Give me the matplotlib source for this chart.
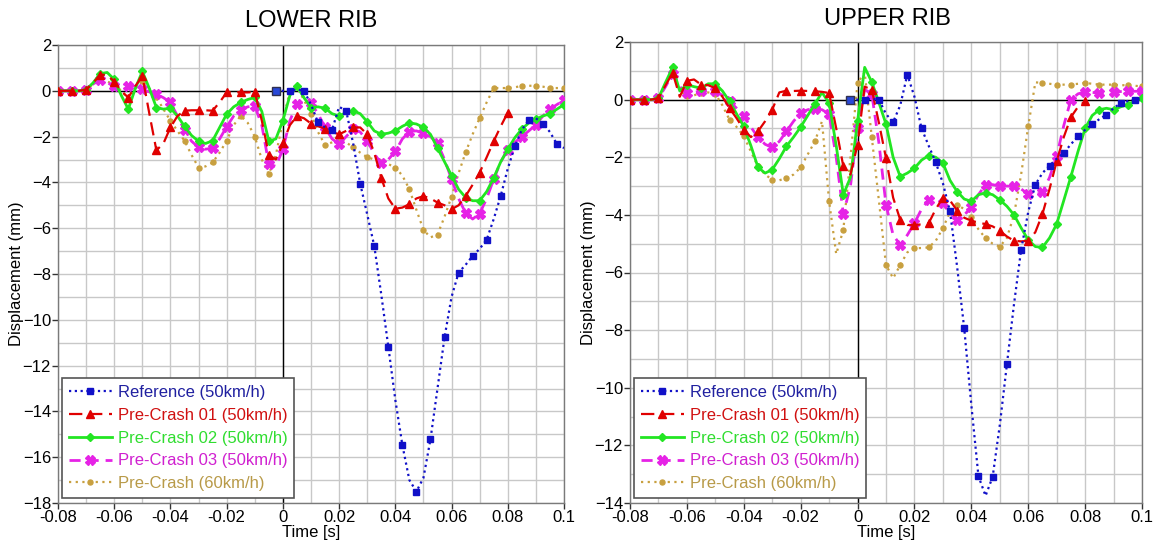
import numpy as np
import matplotlib
matplotlib.use("Agg")
import matplotlib.pyplot as plt
from matplotlib.ticker import MultipleLocator

nan = np.nan

# ---------------- data ----------------
time_s = np.linspace(-0.08, 0.1, 73)   # 2.5 ms sampling

series_labels = ["Reference (50km/h)", "Pre-Crash 01 (50km/h)", "Pre-Crash 02 (50km/h)",
                 "Pre-Crash 03 (50km/h)", "Pre-Crash (60km/h)"]

x_ticks = [-0.08, -0.06, -0.04, -0.02, 0, 0.02, 0.04, 0.06, 0.08, 0.1]
x_tick_labels = ["-0.08", "-0.06", "-0.04", "-0.02", "0", "0.02", "0.04", "0.06", "0.08", "0.1"]

# LOWER RIB
lower_ref = [nan, nan, nan, nan, nan, nan, nan, nan,
             nan, nan, nan, nan, nan, nan, nan, nan,
             nan, nan, nan, nan, nan, nan, nan, nan,
             nan, nan, nan, nan, nan, nan, nan, 0,
             0, 0, 0.05, 0,
             -0.6, -1.38, -1.6, -1.7,
             -0.7, -0.87, -2.3, -4.05,
             -5.4, -6.77, -8.9, -11.17,
             -13.5, -15.47, -17.0, -17.5,
             -16.9, -15.22, -13.0, -10.77,
             -9.0, -7.94, -7.6, -7.21,
             -6.9, -6.5, -5.6, -4.58,
             -3.4, -2.43, -1.7, -1.28,
             -1.2, -1.43, -1.8, -2.33,
             -2.5]
lower_pc01 = [0, 0, 0, 0,
              0.05, 0.35, 0.7, 0.7,
              0.4, 0.0, -0.3, 0.2,
              0.65, -1.0, -2.6, -2.3,
              -1.6, -1.1, -0.87, -0.85,
              -0.85, -0.85, -0.87, -0.5,
              -0.07, -0.05, -0.07, -0.07,
              -0.05, -1.3, -2.8, -3.0,
              -2.3, -1.5, -1.1, -1.2,
              -1.43, -1.55, -1.65, -1.8,
              -1.9, -1.75, -1.6, -1.6,
              -1.9, -2.7, -3.8, -4.7,
              -5.15, -5.1, -4.95, -4.7,
              -4.6, -4.7, -4.88, -5.0,
              -5.17, -5.0, -4.6, -4.1,
              -3.57, -2.9, -2.2, -1.55,
              -0.95, nan, nan, nan,
              nan, nan, nan, nan,
              nan]
lower_pc02 = [0, 0, 0, 0,
              0.05, 0.35, 0.75, 0.8,
              0.5, -0.2, -0.8, 0.1,
              0.85, 0.1, -0.73, -0.8,
              -0.76, -1.1, -1.55, -1.95,
              -2.2, -2.3, -2.18, -1.6,
              -1.02, -0.7, -0.51, -0.38,
              -0.29, -0.9, -2.2, -2.1,
              -1.3, -0.2, 0.2, -0.3,
              -0.73, -0.7, -0.76, -1.0,
              -1.1, -0.95, -0.87, -1.0,
              -1.35, -1.75, -1.9, -1.85,
              -1.75, -1.55, -1.4, -1.45,
              -1.6, -1.9, -2.5, -3.1,
              -3.7, -4.3, -4.66, -4.8,
              -4.8, -4.4, -3.8, -3.1,
              -2.55, -2.05, -1.67, -1.4,
              -1.24, -1.1, -1.0, -0.8,
              -0.6]
lower_pc03 = [0, 0, 0, 0,
              0.05, 0.3, 0.47, 0.35,
              0.22, 0.15, 0.22, 0.2,
              0.07, -0.05, -0.15, -0.3,
              -0.51, -1.1, -1.72, -2.2,
              -2.47, -2.55, -2.5, -2.1,
              -1.57, -1.1, -0.83, -0.7,
              -0.66, -1.5, -3.2, -3.3,
              -2.55, -1.3, -0.58, -0.5,
              -0.55, -1.0, -1.6, -2.1,
              -2.33, -2.0, -1.67, -1.8,
              -2.18, -2.75, -3.17, -3.0,
              -2.65, -2.1, -1.78, -1.75,
              -1.86, -2.0, -2.29, -3.0,
              -3.86, -4.7, -5.34, -5.6,
              -5.36, -4.7, -3.86, -3.1,
              -2.58, -2.25, -2.0, -1.75,
              -1.48, -1.1, -0.8, -0.6,
              -0.41]
lower_pc60 = [0, 0, 0, 0,
              0.05, 0.3, 0.47, 0.4,
              0.3, 0.0, -0.36, 0.1,
              0.44, 0.1, -0.29, -0.8,
              -1.31, -1.75, -2.18, -2.8,
              -3.35, -3.3, -3.13, -2.7,
              -2.18, -1.5, -1.09, -1.4,
              -2.0, -3.0, -3.64, -2.8,
              -1.31, 0.0, 0.15, -0.4,
              -1.02, -1.8, -2.37, -2.25,
              -2.1, -2.25, -2.47, -2.7,
              -2.9, -3.0, -3.1, -3.2,
              -3.35, -3.7, -4.3, -5.2,
              -6.07, -6.4, -6.28, -5.5,
              -4.62, -3.6, -2.69, -1.9,
              -1.19, -0.5, 0.12, 0.12,
              0.12, 0.15, 0.22, 0.22,
              0.22, 0.18, 0.12, 0.12,
              0.12]

# UPPER RIB
upper_ref = [nan, nan, nan, nan, nan, nan, nan, nan,
             nan, nan, nan, nan, nan, nan, nan, nan,
             nan, nan, nan, nan, nan, nan, nan, nan,
             nan, nan, nan, nan, nan, nan, nan, 0,
             0, 0, 0.02, 0,
             -0.5, -0.78, -0.2, 0.87,
             0.1, -1.0, -1.6, -2.18,
             -2.9, -3.88, -5.8, -7.94,
             -10.6, -13.07, -13.75, -13.09,
             -11.3, -9.19, -7.1, -5.21,
             -3.9, -2.95, -2.55, -2.29,
             -2.05, -1.85, -1.55, -1.27,
             -1.05, -0.85, -0.68, -0.52,
             -0.3, -0.12, -0.05, 0,
             0.05]
upper_pc01 = [0, 0, 0, 0,
              0.05, 0.5, 0.93, 0.1,
              0.65, 0.7, 0.52, 0.5,
              0.4, 0.1, -0.3, -0.65,
              -1.04, -1.3, -1.1, -0.75,
              -0.35, 0.25, 0.31, 0.3,
              0.31, 0.3, 0.29, 0.27,
              0.23, -1.0, -2.32, -2.6,
              -1.56, 0.45, 0.35, -0.8,
              -2.03, -3.4, -4.17, -4.35,
              -4.35, -4.33, -4.29, -3.8,
              -3.4, -3.5, -3.85, -4.1,
              -4.2, -4.27, -4.32, -4.4,
              -4.55, -4.75, -4.9, -4.92,
              -4.9, -4.6, -3.97, -3.1,
              -2.14, -1.3, -0.61, -0.25,
              -0.06, nan, nan, nan,
              nan, nan, nan, nan,
              nan]
upper_pc02 = [0, 0, 0, 0,
              0.05, 0.6, 1.12, 0.3,
              0.52, 0.45, 0.4, 0.55,
              0.55, 0.3, -0.06, -0.5,
              -0.93, -1.6, -2.35, -2.55,
              -2.43, -2.05, -1.62, -1.3,
              -0.95, -0.55, -0.15, 0.25,
              -0.12, -1.6, -3.3, -2.7,
              -0.75, 1.12, 0.61, -0.1,
              -0.85, -2.0, -2.67, -2.55,
              -2.38, -2.1, -1.94, -2.0,
              -2.2, -2.8, -3.19, -3.45,
              -3.53, -3.3, -3.24, -3.3,
              -3.48, -3.7, -4.0, -4.45,
              -4.87, -5.1, -5.13, -4.8,
              -4.32, -3.5, -2.67, -1.8,
              -1.0, -0.55, -0.35, -0.3,
              -0.35, -0.25, -0.17, -0.05,
              0.06]
upper_pc03 = [0, 0, 0, 0,
              0.05, 0.45, 0.9, 0.45,
              0.23, 0.25, 0.29, 0.3,
              0.29, 0.15, -0.06, -0.3,
              -0.58, -0.95, -1.31, -1.55,
              -1.66, -1.45, -1.1, -0.75,
              -0.46, -0.35, -0.31, -0.35,
              -0.5, -2.0, -3.97, -3.0,
              -0.98, 0.35, 0.2, -1.5,
              -3.65, -4.7, -5.04, -4.7,
              -4.29, -3.8, -3.48, -3.45,
              -3.6, -3.95, -4.17, -4.0,
              -3.74, -3.3, -2.95, -2.95,
              -3.01, -3.0, -3.01, -3.1,
              -3.28, -3.3, -3.22, -2.7,
              -1.97, -0.9, 0.0, 0.2,
              0.27, 0.25, 0.23, 0.25,
              0.27, 0.28, 0.29, 0.29,
              0.29]
upper_pc60 = [0, 0, 0, 0,
              0.05, 0.5, 0.93, 0.3,
              0.12, 0.15, 0.23, 0.25,
              0.2, -0.2, -0.7, -0.95,
              -1.27, -1.8, -2.32, -2.6,
              -2.78, -2.8, -2.72, -2.6,
              -2.35, -1.9, -1.45, -0.75,
              -3.53, -5.36, -4.52, -2.0,
              0.58, 0.95, -1.3, -3.5,
              -5.74, -6.2, -5.74, -5.3,
              -5.16, -5.15, -5.13, -4.9,
              -4.46, -3.9, -3.65, -3.8,
              -4.06, -4.5, -4.81, -5.0,
              -5.1, -4.8, -4.0, -2.6,
              -0.93, 0.6, 0.58, 0.55,
              0.52, 0.52, 0.52, 0.55,
              0.58, 0.55, 0.52, 0.52,
              0.52, 0.5, 0.5, 0.48,
              0.46]

# ---------------- styling ----------------
plt.rcParams['font.family'] = ['Liberation Sans', 'DejaVu Sans']

colors = ["#1010C8", "#E00000", "#22E622", "#E622E6", "#C8A040"]
text_colors = ["#2020A0", "#D01010", "#30DD30", "#D020D0", "#B89A48"]
styles = [
    dict(ls=(0, (1, 1.6)), lw=1.6, marker='s', ms=5.0),
    dict(ls=(0, (6, 3)), lw=1.6, marker='^', ms=6.0),
    dict(ls='-', lw=2.0, marker='D', ms=3.8),
    dict(ls=(0, (4, 2.5)), lw=2.0, marker='X', ms=7.0),
    dict(ls=(0, (1, 2.0)), lw=1.6, marker='o', ms=3.6),
]

fig = plt.figure(figsize=(11.55, 5.44), dpi=100)
W, H = 1155.0, 544.0
ax1 = fig.add_axes([58 / W, 1 - 503 / H, (564 - 58) / W, (503 - 45) / H])
ax2 = fig.add_axes([630 / W, 1 - 503 / H, (1142 - 630) / W, (503 - 42) / H])

panels = [
    (ax1, [lower_ref, lower_pc01, lower_pc02, lower_pc03, lower_pc60], (-18, 2), "LOWER RIB", 311, 21),
    (ax2, [upper_ref, upper_pc01, upper_pc02, upper_pc03, upper_pc60], (-14, 2), "UPPER RIB", 887, 19),
]

for ax, data, ylim, title, tx, ty in panels:
    ax.set_xlim(-0.08, 0.1)
    ax.set_ylim(*ylim)
    ax.xaxis.set_major_locator(MultipleLocator(0.02))
    ax.xaxis.set_minor_locator(MultipleLocator(0.01))
    ax.yaxis.set_major_locator(MultipleLocator(2))
    ax.yaxis.set_minor_locator(MultipleLocator(1))
    ax.set_xticks(x_ticks)
    ax.set_xticklabels(x_tick_labels)
    ax.grid(True, which='both', color='#C8C8C8', lw=1.0)
    ax.set_axisbelow(True)
    for sp in ax.spines.values():
        sp.set_color('#7A7A7A')
        sp.set_linewidth(1.0)
    ax.tick_params(which='major', direction='out', length=4, width=1, color='#333333',
                   labelsize=12, pad=1)
    ax.tick_params(which='minor', length=0)
    ax.axhline(0, color='black', lw=1.0, zorder=1.5)
    ax.axvline(0, color='black', lw=1.0, zorder=1.5)
    ax.set_xlabel("Time [s]", fontsize=12, labelpad=0)
    ax.set_ylabel("Displacement (mm)", fontsize=12, labelpad=-1)

    handles = []
    for k, vals in enumerate(data):
        v = np.asarray(vals, dtype=float)
        if k == 0:
            first = int(np.flatnonzero(~np.isnan(v))[0])
            mev = (first, 2)
        else:
            mev = (0, 2)
        st = styles[k]
        h, = ax.plot(time_s, v, color=colors[k], ls=st['ls'], lw=st['lw'],
                     marker=st['marker'], ms=st['ms'], mfc=colors[k], mec=colors[k],
                     markevery=mev, label=series_labels[k], zorder=3 + (4 - k) * 0.1)
        handles.append(h)
        if k == 0:
            ax.plot(time_s[first], v[first], marker='s', ms=6, mfc='#2848D8',
                    mec='#303050', mew=1.0, ls='none', zorder=5)

    leg = ax.legend(handles=handles, loc='lower left', bbox_to_anchor=(0.008, 0.011),
                    borderaxespad=0, fontsize=12, frameon=True, fancybox=False,
                    edgecolor='#555555', framealpha=1, handlelength=2.6,
                    handletextpad=0.35, labelspacing=0.47, borderpad=0.4)
    leg.get_frame().set_linewidth(1.2)
    for txt, c in zip(leg.get_texts(), text_colors):
        txt.set_color(c)

    fig.text(tx / W, 1 - ty / H, title, ha='center', va='center', fontsize=17)

fig.savefig("out.png", dpi=100)
